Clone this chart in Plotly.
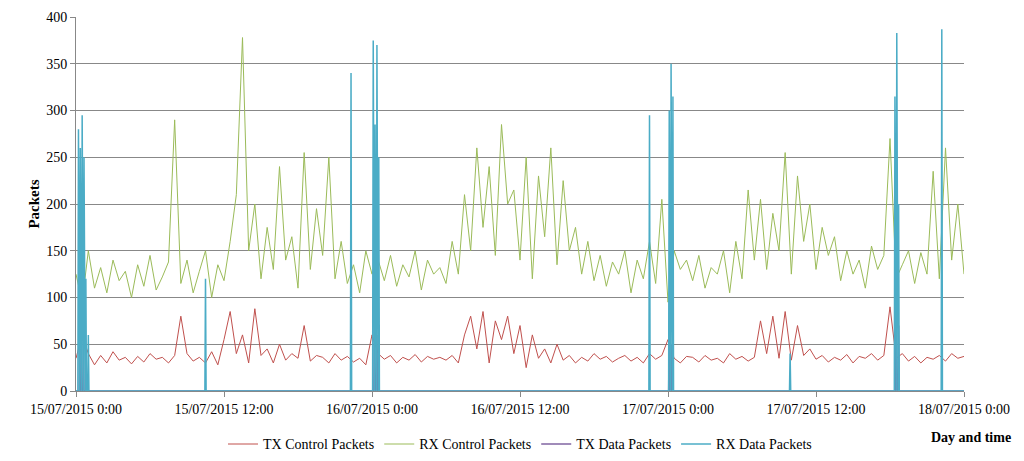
import pandas as pd
import plotly.graph_objects as go

start = pd.Timestamp("2015-07-15 00:00")

# half-hourly readings, hours 0..72
rx_control = [125,95,150,110,132,105,140,118,128,100,
              135,112,145,108,122,138,290,115,140,105,
              128,150,100,135,118,160,210,378,150,200,
              120,175,130,240,140,165,110,255,130,195,
              145,250,120,160,115,135,105,150,125,140,
              118,145,112,135,122,150,108,140,125,132,
              115,160,125,210,150,260,175,240,145,285,
              200,215,140,250,120,230,165,260,135,225,
              150,175,125,160,118,145,112,138,125,150,
              105,140,120,160,115,205,95,150,130,140,
              118,145,110,132,125,150,105,160,120,215,
              140,205,130,190,150,255,125,230,160,200,
              130,175,145,165,118,150,125,140,110,155,
              130,145,270,120,135,150,115,148,125,235,
              120,260,140,200,125]
tx_control = [35,60,40,28,38,30,42,33,36,29,
              37,31,40,34,36,30,38,80,40,32,
              36,30,42,28,55,85,40,60,30,88,
              38,45,30,50,33,40,35,70,32,38,
              36,30,40,33,37,31,35,28,60,40,
              34,38,30,36,33,39,31,37,34,36,
              33,38,30,60,80,45,85,30,75,55,
              80,40,70,25,60,35,45,30,50,33,
              38,30,36,32,40,34,37,31,35,38,
              32,36,30,40,34,38,55,35,30,37,
              36,31,38,33,35,30,40,34,37,32,
              36,75,40,80,35,85,33,70,38,45,
              34,38,31,36,33,39,30,37,35,40,
              33,38,90,35,40,32,37,30,36,34,
              38,32,40,35,37]
hours = [i * 0.5 for i in range(len(rx_control))]

# sparse bursts (hour, peak)
tx_data_hours = [0.3, 0.6, 24.2, 24.4, 48.1, 48.3, 66.5, 66.7]
tx_data_peaks = [75, 55, 90, 60, 70, 50, 90, 70]
rx_data_hours = [0.2, 0.35, 0.5, 0.65, 0.8, 1.0, 10.5, 22.3, 24.1, 24.25, 24.4, 24.55,
                 46.5, 48.1, 48.25, 48.4, 57.9, 66.4, 66.55, 66.7, 70.2]
rx_data_peaks = [280, 260, 295, 250, 120, 60, 120, 340, 375, 285, 370, 250,
                 295, 300, 350, 315, 40, 315, 383, 200, 387]

def bursts(hs, vs):
    xs, ys = [0], [0]
    for h, v in zip(hs, vs):
        xs += [h - 0.05, h, h + 0.05]
        ys += [0, v, 0]
    xs.append(72); ys.append(0)
    return [start + pd.Timedelta(hours=h) for h in xs], ys

t = [start + pd.Timedelta(hours=h) for h in hours]
fig = go.Figure()
fig.add_trace(go.Scatter(x=t, y=tx_control, mode="lines", name="TX Control Packets", line=dict(color="#C0504D", width=1)))
fig.add_trace(go.Scatter(x=t, y=rx_control, mode="lines", name="RX Control Packets", line=dict(color="#9BBB59", width=1)))
x, y = bursts(tx_data_hours, tx_data_peaks)
fig.add_trace(go.Scatter(x=x, y=y, mode="lines", name="TX Data Packets", line=dict(color="#8064A2", width=1.5)))
x, y = bursts(rx_data_hours, rx_data_peaks)
fig.add_trace(go.Scatter(x=x, y=y, mode="lines", name="RX Data Packets", line=dict(color="#4BACC6", width=1.5)))

ticks = [start + pd.Timedelta(hours=12 * i) for i in range(7)]
fig.update_layout(
    width=1024, height=461, margin=dict(l=68, r=68, t=9, b=72),
    plot_bgcolor="white", paper_bgcolor="white",
    font=dict(family="Liberation Serif", size=14, color="black"),
    xaxis=dict(range=[start, start + pd.Timedelta(hours=72)], tickvals=ticks, automargin=False,
               ticktext=[f"{d.day:02d}/07/2015 {d.hour}:00" for d in ticks],
               showgrid=False, showline=True, linecolor="#888", ticks="outside", tickcolor="#888"),
    yaxis=dict(range=[0, 400], dtick=50, gridcolor="#888", showline=True, linecolor="#888",
               ticks="outside", tickcolor="#888", automargin=False,
               title=dict(text="<b>Packets</b>", font=dict(size=15), standoff=2)),
    legend=dict(orientation="h", x=0.5, xanchor="center", y=-0.1, yanchor="top", font=dict(size=14)),
    annotations=[dict(text="<b>Day and time</b>", xref="paper", yref="paper", x=1.055, y=-0.1,
                      xanchor="right", yanchor="top", showarrow=False, font=dict(size=14))],
)
fig.write_html("out.html")
